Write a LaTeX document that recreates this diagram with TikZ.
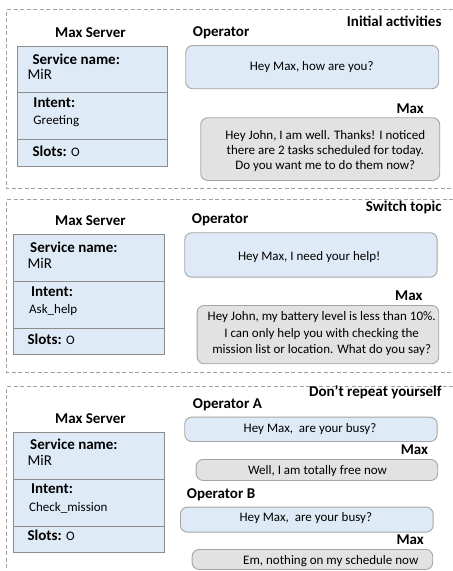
\documentclass[tikz,border=0pt]{standalone}
\usepackage{fontspec}
\setmainfont{Carlito}
\definecolor{blueF}{HTML}{DEEBF7}
\definecolor{grayF}{HTML}{E2E2E2}
\definecolor{bubB}{HTML}{A5A5A5}
\definecolor{srvB}{HTML}{8C8C8C}
\definecolor{dashC}{HTML}{A0A0A0}
\tikzset{
  panel/.style={draw=dashC, line width=0.8pt, dash pattern=on 4pt off 2.5pt},
  head/.style={font=\bfseries\fontsize{15}{18}\selectfont, inner sep=0pt},
  hb/.style={font=\bfseries\fontsize{15}{18}\selectfont, inner sep=0pt, anchor=base west},
  rg15/.style={font=\fontsize{15}{18}\selectfont, inner sep=0pt, anchor=base west},
  rg13/.style={font=\fontsize{13}{15}\selectfont, inner sep=0pt, anchor=base west},
  bt/.style={font=\fontsize{13}{15}\selectfont, inner sep=0pt},
  srv/.style={draw=srvB, fill=blueF, line width=0.9pt, anchor=north west, inner sep=0pt},
  opb/.style={draw=bubB, fill=blueF, line width=0.9pt, rounded corners=7pt, anchor=north west, inner sep=0pt},
  maxb/.style={draw=bubB, fill=grayF, line width=0.9pt, rounded corners=7pt, anchor=north west, inner sep=0pt},
}
\newcommand{\slotO}{{\mdseries\fontsize{13}{15}\selectfont O}}
\begin{document}
\begin{tikzpicture}[x=1pt,y=-1pt]
\useasboundingbox[fill=white] (0,0) rectangle (453,571);

% ---------------- Panel 1 ----------------
\draw[panel] (453,9.3) -- (6.7,9.3) -- (6.7,188.3) -- (453,188.3);
\node[head, anchor=base east] (t1) at (441.7,26) {Initial activities};
\node[head, anchor=base] (ms1) at (90.5,37.3) {Max Server};
\node[head, anchor=base west] (op1) at (192.7,36) {Operator};
\node[srv, minimum width=150, minimum height=46.6] (s1a) at (16.7,45.7) {};
\node[srv, minimum width=150, minimum height=46.7] (s1b) at (16.7,92.3) {};
\node[srv, minimum width=150, minimum height=26.7] (s1c) at (16.7,139) {};
\node[hb] (sn1) at (32.3,64) {Service name:};
\node[rg15] (mir1) at (27.3,79.3) {MiR};
\node[hb] (in1) at (33.3,107.7) {Intent:};
\node[rg13] (iv1) at (33.3,124) {Greeting};
\node[hb] (sl1) at (32.3,156.7) {Slots: \slotO};
\node[opb, minimum width=253, minimum height=43.3] (ob1) at (185.3,45) {};
\node[bt, anchor=base] (obt1) at (311.7,70.7) {Hey Max, how are you?};
\node[head, anchor=base east] (mx1) at (424,113.3) {Max};
\node[maxb, minimum width=239, minimum height=62.7] (mb1) at (200.3,117.3) {};
\node[bt, align=center, anchor=center] (mbt1) at (325.3,151) {Hey John, I am well. Thanks! I noticed\\there are 2 tasks scheduled for today.\\Do you want me to do them now?};

% ---------------- Panel 2 ----------------
\draw[panel] (453,199.3) -- (6.7,199.3) -- (6.7,372) -- (453,372);
\node[head, anchor=base east] (t2) at (441.7,211.7) {Switch topic};
\node[head, anchor=base] (ms2) at (90.5,225.7) {Max Server};
\node[head, anchor=base west] (op2) at (191.7,223.3) {Operator};
\node[srv, minimum width=151, minimum height=46.4] (s2a) at (13.3,234.3) {};
\node[srv, minimum width=151, minimum height=47] (s2b) at (13.3,280.7) {};
\node[srv, minimum width=151, minimum height=26.6] (s2c) at (13.3,327.7) {};
\node[hb] (sn2) at (30,252.7) {Service name:};
\node[rg15] (mir2) at (27.3,268.3) {MiR};
\node[hb] (in2) at (31,296) {Intent:};
\node[rg13] (iv2) at (29,313.3) {Ask\_help};
\node[hb] (sl2) at (27.3,344) {Slots: \slotO};
\node[opb, minimum width=252.4, minimum height=44.4] (ob2) at (184.3,232.3) {};
\node[bt, anchor=base] (obt2) at (309.2,260.7) {Hey Max, I need your help!};
\node[head, anchor=base east] (mx2) at (422.7,300.7) {Max};
\node[maxb, minimum width=241.6, minimum height=58.3] (mb2) at (196.7,305) {};
\node[bt, align=center, anchor=center, font=\fontsize{13}{16.3}\selectfont] (mbt2) at (321.7,333.8) {Hey John, my battery level is less than 10\%.\\I can only help you with checking the\\mission list or location. What do you say?};

% ---------------- Panel 3 ----------------
\draw[panel] (453,386.5) -- (6.7,386.5) -- (6.7,571);
\node[head, anchor=base east] (t3) at (441.7,396.7) {Don’t repeat yourself};
\node[head, anchor=base west] (opa) at (192.7,408.3) {Operator A};
\node[head, anchor=base] (ms3) at (90.5,423.3) {Max Server};
\node[srv, minimum width=151, minimum height=47.3] (s3a) at (13.3,431.7) {};
\node[srv, minimum width=151, minimum height=46.7] (s3b) at (13.3,479) {};
\node[srv, minimum width=151, minimum height=26] (s3c) at (13.3,525.7) {};
\node[hb] (sn3) at (30,449.3) {Service name:};
\node[rg15] (mir3) at (27.3,465) {MiR};
\node[hb] (in3) at (31,493.3) {Intent:};
\node[rg13] (iv3) at (29,511) {Check\_mission};
\node[hb] (sl3) at (27.3,540) {Slots: \slotO};
\node[opb, minimum width=252.4, minimum height=24.3] (oba) at (184.3,416.7) {};
\node[bt, anchor=base] (obta) at (310,432.7) {Hey Max,~ are your busy?};
\node[head, anchor=base east] (mx3) at (428.3,454.7) {Max};
\node[maxb, minimum width=241.6, minimum height=21] (mb3) at (195.7,459) {};
\node[bt, anchor=base] (mbt3) at (317.5,474.3) {Well, I am totally free now};
\node[head, anchor=base west] (opb) at (186.7,498.3) {Operator B};
\node[opb, minimum width=252.7, minimum height=25] (obb) at (180,506.7) {};
\node[bt, anchor=base] (obtb) at (305.8,521.7) {Hey Max,~ are your busy?};
\node[head, anchor=base east] (mx4) at (424,544.3) {Max};
\node[maxb, minimum width=240.6, minimum height=20] (mb4) at (191.7,549) {};
\node[bt, anchor=base] (mbt4) at (330.8,564) {Em, nothing on my schedule now};
\end{tikzpicture}
\end{document}
